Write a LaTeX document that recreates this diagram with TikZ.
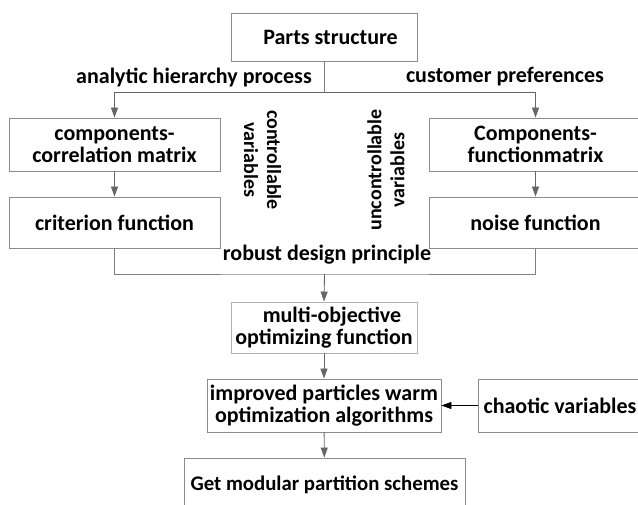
\documentclass[tikz,border=0pt]{standalone}
\usepackage{fontspec}
\setmainfont{Carlito}
\usetikzlibrary{arrows.meta}

\tikzset{
  txt/.style={font=\bfseries\fontsize{22}{22}\selectfont, align=center, inner sep=0pt},
  side/.style={txt, font=\bfseries\fontsize{20}{23}\selectfont},
  box/.style={txt, draw=black!45, line width=0.9pt},
  link/.style={draw=black!50, line width=0.9pt},
  arr/.style={link, -{Triangle[width=7pt,length=10pt]}, color=black!60},
}

\begin{document}
\begin{tikzpicture}[x=1pt,y=-1pt]
%\draw[help lines] (0,0) grid[step=50] (638,505);
\useasboundingbox (0,0) rectangle (638,505);

% upper part
\node[box, minimum width=186, minimum height=48] (parts) at (324.5,37) {\hspace*{12pt}Parts structure};
\node[box, minimum width=211, minimum height=53] (corr) at (114.5,144.5) {components-\\correlation matrix};
\node[box, minimum width=213, minimum height=53] (funmat) at (535.5,144.5) {Components-\\functionmatrix};
\node[box, minimum width=211, minimum height=51] (crit) at (114.5,222.5) {criterion function};
\node[box, minimum width=213, minimum height=51] (noise) at (535.5,222.5) {noise function};

\node[txt] (ahp) at (194,77) {analytic hierarchy process};
\node[txt] (cust) at (505,77) {customer preferences};
\node[side, rotate=-90] (ctrl) at (262.5,160) {controllable\\variables};
\node[side, rotate=90] (unctrl) at (386,170) {uncontrollable\\variables};
\node[txt] (robust) at (327,255) {robust design principle};

% lower part
\node[box, draw=black!30, minimum width=186, minimum height=51] (multi) at (324,327.5) {\hspace*{16pt}multi-objective\\optimizing function};
\node[box, minimum width=234, minimum height=53] (pso) at (324,405.5) {improved particles warm\\optimization algorithms};
\node[box, minimum width=164, minimum height=53] (chaos) at (560,405.5) {chaotic variables};
\node[box, font=\bfseries\fontsize{20.8}{22}\selectfont, minimum width=281, minimum height=54] (scheme) at (324.5,485) {Get modular partition schemes};

\coordinate (split) at (324.5,92);
\coordinate (merge) at (324.5,274);

\draw[link] (parts.south) -- (split);
\draw[arr] (split) -| (corr.north);
\draw[arr] (split) -| (funmat.north);
\draw[arr] (corr) -- (crit);
\draw[arr] (funmat) -- (noise);
\draw[link] (crit.south) |- (merge) -| (noise.south);
\draw[arr] (merge) -- (multi.north);
\draw[arr] (multi) -- (pso);
\draw[arr] (pso) -- (scheme);
\draw[arr, color=black] (chaos) -- (pso);
\end{tikzpicture}
\end{document}
